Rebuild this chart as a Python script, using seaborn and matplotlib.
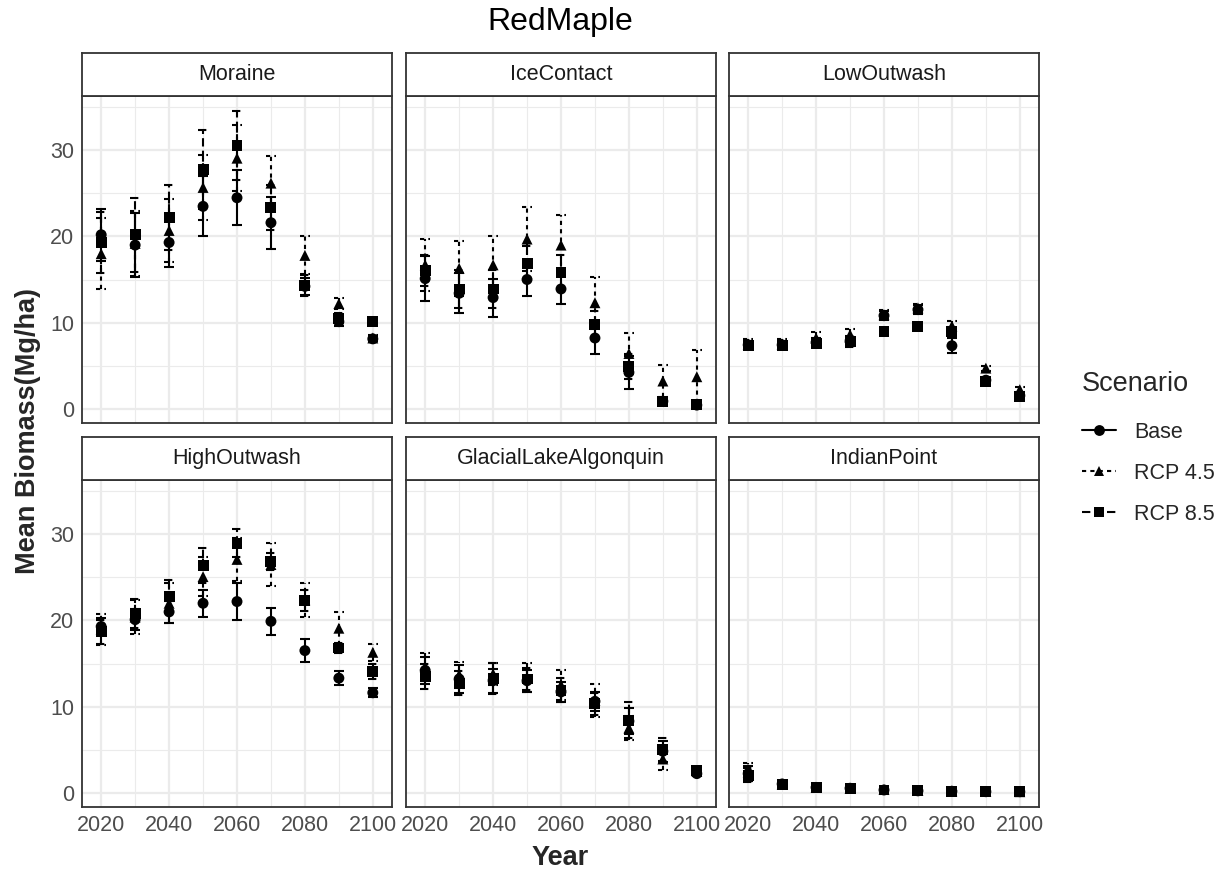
import numpy as np
import pandas as pd
import matplotlib
matplotlib.use("Agg")
import matplotlib.pyplot as plt
from matplotlib.lines import Line2D
from matplotlib.ticker import MultipleLocator
import seaborn as sns

sns.set_style("white")
plt.rcParams["font.family"] = ["Liberation Sans", "DejaVu Sans"]

# ---- data -------------------------------------------------------------
years = [2020, 2030, 2040, 2050, 2060, 2070, 2080, 2090, 2100]
scenarios = ["Base", "RCP 4.5", "RCP 8.5"]
regions = ["Moraine", "IceContact", "LowOutwash",
           "HighOutwash", "GlacialLakeAlgonquin", "IndianPoint"]

moraine_mean = {
    "Base":    [20.2, 19.0, 19.3, 23.5, 24.5, 21.6, 14.2, 10.1, 8.1],
    "RCP 4.5": [18.0, 19.2, 20.7, 25.7, 29.1, 26.2, 17.8, 12.2, 8.2],
    "RCP 8.5": [19.3, 20.2, 22.2, 27.8, 30.6, 23.4, 14.3, 10.5, 10.1],
}
moraine_se = {
    "Base":    [3.0, 3.7, 2.8, 3.5, 3.2, 3.0, 1.0, 0.5, 0.3],
    "RCP 4.5": [4.1, 3.8, 3.7, 3.8, 3.8, 3.2, 2.2, 0.6, 0.3],
    "RCP 8.5": [3.6, 4.3, 3.8, 4.6, 4.0, 2.6, 1.2, 0.6, 0.3],
}

icecontact_mean = {
    "Base":    [15.1, 13.4, 12.9, 15.0, 13.9, 8.2, 4.2, 0.85, 0.4],
    "RCP 4.5": [16.7, 16.3, 16.7, 19.7, 19.0, 12.3, 6.4, 3.2, 3.7],
    "RCP 8.5": [16.1, 13.9, 13.9, 16.9, 15.8, 9.8, 4.9, 0.8, 0.45],
}
icecontact_se = {
    "Base":    [2.6, 2.3, 2.2, 1.9, 1.7, 1.8, 1.9, 0.3, 0.2],
    "RCP 4.5": [3.0, 3.2, 3.3, 3.7, 3.5, 3.0, 2.4, 1.9, 3.1],
    "RCP 8.5": [1.8, 2.2, 2.2, 2.0, 2.0, 1.5, 1.5, 0.3, 0.2],
}

lowoutwash_mean = {
    "Base":    [7.4, 7.4, 7.7, 7.8, 10.8, 11.5, 7.3, 3.3, 1.5],
    "RCP 4.5": [7.5, 7.5, 8.2, 8.6, 10.9, 11.7, 9.6, 4.7, 2.2],
    "RCP 8.5": [7.3, 7.3, 7.6, 7.8, 9.0, 9.5, 9.0, 3.2, 1.4],
}
lowoutwash_se = {
    "Base":    [0.5, 0.4, 0.5, 0.5, 0.5, 0.5, 0.85, 0.3, 0.3],
    "RCP 4.5": [0.6, 0.6, 0.7, 0.7, 0.5, 0.5, 0.6, 0.3, 0.3],
    "RCP 8.5": [0.4, 0.4, 0.5, 0.6, 0.4, 0.4, 0.5, 0.3, 0.3],
}

highoutwash_mean = {
    "Base":    [19.3, 20.1, 21.0, 22.0, 22.2, 19.9, 16.5, 13.3, 11.6],
    "RCP 4.5": [19.0, 20.4, 22.0, 25.1, 27.1, 26.5, 22.4, 19.1, 16.3],
    "RCP 8.5": [18.7, 20.8, 22.8, 26.4, 29.0, 26.9, 22.3, 16.8, 14.1],
}
highoutwash_se = {
    "Base":    [1.0, 1.2, 1.3, 1.6, 2.2, 1.6, 1.3, 0.8, 0.5],
    "RCP 4.5": [1.8, 2.0, 2.3, 2.3, 2.5, 2.45, 2.0, 1.9, 1.0],
    "RCP 8.5": [1.4, 1.7, 1.9, 2.0, 1.6, 1.0, 1.2, 0.6, 0.9],
}

glacial_mean = {
    "Base":    [14.2, 13.2, 13.0, 13.0, 11.7, 10.6, 8.3, 4.8, 2.2],
    "RCP 4.5": [14.6, 13.7, 13.8, 13.4, 12.5, 10.7, 7.5, 3.9, 2.5],
    "RCP 8.5": [13.5, 12.7, 13.3, 13.2, 11.9, 10.3, 8.4, 5.0, 2.6],
}
glacial_se = {
    "Base":    [1.6, 1.6, 1.4, 1.3, 1.2, 1.1, 1.5, 1.2, 0.3],
    "RCP 4.5": [1.6, 1.5, 1.3, 1.7, 1.7, 1.9, 1.4, 1.3, 0.3],
    "RCP 8.5": [1.5, 1.4, 1.8, 1.3, 1.4, 1.3, 2.1, 1.3, 0.3],
}

indianpoint_mean = {
    "Base":    [2.2, 1.0, 0.6, 0.5, 0.3, 0.2, 0.15, 0.1, 0.1],
    "RCP 4.5": [2.4, 1.0, 0.6, 0.5, 0.35, 0.25, 0.2, 0.15, 0.1],
    "RCP 8.5": [2.0, 0.9, 0.6, 0.45, 0.3, 0.2, 0.15, 0.1, 0.1],
}
indianpoint_se = {
    "Base":    [0.9, 0.2, 0.1, 0.1, 0.1, 0.05, 0.05, 0.05, 0.05],
    "RCP 4.5": [1.0, 0.2, 0.1, 0.1, 0.1, 0.05, 0.05, 0.05, 0.05],
    "RCP 8.5": [0.8, 0.2, 0.1, 0.1, 0.1, 0.05, 0.05, 0.05, 0.05],
}

region_means = [moraine_mean, icecontact_mean, lowoutwash_mean,
                highoutwash_mean, glacial_mean, indianpoint_mean]
region_ses = [moraine_se, icecontact_se, lowoutwash_se,
              highoutwash_se, glacial_se, indianpoint_se]

# long-format table
rows = []
for reg, means, ses in zip(regions, region_means, region_ses):
    for sc in scenarios:
        for yr, m, s in zip(years, means[sc], ses[sc]):
            rows.append((reg, sc, yr, m, s))
df = pd.DataFrame(rows, columns=["Region", "Scenario", "Year", "Biomass", "SE"])
df["lo"] = df["Biomass"] - df["SE"]
df["hi"] = df["Biomass"] + df["SE"]

# ---- styling ----------------------------------------------------------
markers = {"Base": "o", "RCP 4.5": "^", "RCP 8.5": "s"}
dashes = {"Base": "solid", "RCP 4.5": (0, (2, 2)), "RCP 8.5": (0, (4, 2))}
cap_half = 1.5          # half-width of error-bar caps, in years
lw = 1.5
border_col = "#333333"
grid_col = "#EBEBEB"
tick_col = "#4D4D4D"

# shared scales with ggplot-style 5% expansion
ymin, ymax = df["lo"].min(), df["hi"].max()
ypad = 0.05 * (ymax - ymin)
xmin, xmax = min(years) - cap_half, max(years) + cap_half
xpad = 0.05 * (xmax - xmin)

W, H = 1226, 873
fig = plt.figure(figsize=(W / 100, H / 100), dpi=100)

col_left = [82, 406, 729]
panel_w = 310
row_top = [96, 480]
panel_h = 327
strip_h = 43


def fbox(x, y, w, h):
    return [x / W, 1 - (y + h) / H, w / W, h / H]


for i, reg in enumerate(regions):
    r, c = divmod(i, 3)
    ax = fig.add_axes(fbox(col_left[c], row_top[r], panel_w, panel_h))
    sub = df[df["Region"] == reg]

    for sc in scenarios:
        d = sub[sub["Scenario"] == sc]
        ax.vlines(d["Year"], d["lo"], d["hi"], colors="black",
                  linestyles=dashes[sc], linewidth=lw, zorder=2)
        for col in ("lo", "hi"):
            ax.hlines(d[col], d["Year"] - cap_half, d["Year"] + cap_half,
                      colors="black", linestyles=dashes[sc], linewidth=lw,
                      zorder=2)

    sns.scatterplot(data=sub, x="Year", y="Biomass", style="Scenario",
                    style_order=scenarios, markers=markers, color="black",
                    s=62, linewidth=0, legend=False, ax=ax, zorder=3)

    ax.set_xlim(xmin - xpad, xmax + xpad)
    ax.set_ylim(ymin - ypad, ymax + ypad)
    ax.xaxis.set_major_locator(MultipleLocator(20))
    ax.xaxis.set_minor_locator(MultipleLocator(10))
    ax.yaxis.set_major_locator(MultipleLocator(10))
    ax.yaxis.set_minor_locator(MultipleLocator(5))
    ax.grid(which="major", color=grid_col, linewidth=1.6)
    ax.grid(which="minor", color=grid_col, linewidth=0.8)
    ax.set_axisbelow(True)
    ax.set_xlabel("")
    ax.set_ylabel("")
    for sp in ax.spines.values():
        sp.set_color(border_col)
        sp.set_linewidth(1.3)
    ax.tick_params(axis="both", which="major", length=3.2, width=1.0,
                   color=border_col, labelsize=15.5, labelcolor=tick_col,
                   pad=2.5)
    ax.tick_params(axis="both", which="minor", length=0)
    if c != 0:
        ax.tick_params(axis="y", which="major", length=0, labelleft=False)
    if r != 1:
        ax.tick_params(axis="x", which="major", length=0, labelbottom=False)

    # facet strip
    sax = fig.add_axes(fbox(col_left[c], row_top[r] - strip_h, panel_w, strip_h))
    sax.set_xticks([])
    sax.set_yticks([])
    sax.set_facecolor("white")
    for sp in sax.spines.values():
        sp.set_color(border_col)
        sp.set_linewidth(1.3)
    sax.text(0.5, 0.5, reg, ha="center", va="center", fontsize=15.5,
             color="#1A1A1A", transform=sax.transAxes)

# titles
fig.text(560 / W, 1 - 22 / H, "RedMaple", ha="center", va="center",
         fontsize=23, color="black")
fig.text(560 / W, 1 - 858 / H, "Year", ha="center", va="center",
         fontsize=19.5, fontweight="bold")
fig.text(28 / W, 1 - 431 / H, "Mean Biomass(Mg/ha)", ha="center",
         va="center", rotation=90, fontsize=19.5, fontweight="bold")

# legend
handles = [Line2D([0], [0], color="black", linestyle=dashes[sc], linewidth=lw,
                  marker=markers[sc], markersize=7.8, markeredgewidth=0)
           for sc in scenarios]
leg = fig.legend(handles, scenarios, title="Scenario", loc="upper left",
                 bbox_to_anchor=(1073 / W, 1 - 362 / H), frameon=False,
                 fontsize=15.5, title_fontsize=19.5, handlelength=1.6,
                 handletextpad=0.85, labelspacing=0.93, borderaxespad=0)
leg._legend_box.align = "left"
leg._legend_box.sep = 18

fig.savefig("out.png", dpi=100)
